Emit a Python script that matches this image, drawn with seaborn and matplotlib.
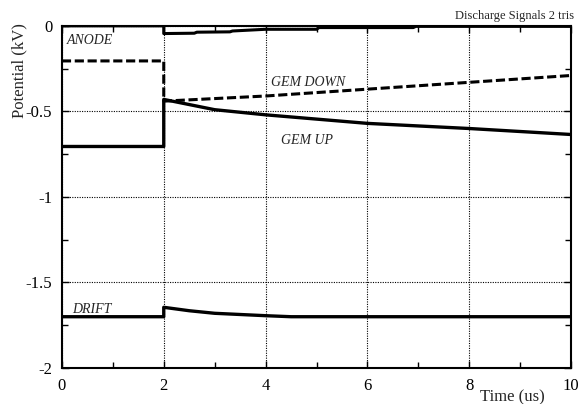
import numpy as np
import pandas as pd
import seaborn as sns
import matplotlib.pyplot as plt
from matplotlib.ticker import MultipleLocator, FuncFormatter

t_anode = [0, 2, 2, 2.6, 2.65, 3.3, 3.35, 4.0, 5.0, 5.05, 6.9, 6.95, 10]
v_anode = [0, 0, -0.045, -0.043, -0.037, -0.035, -0.03, -0.02, -0.02, -0.01, -0.01, -0.003, -0.003]

t_gem_down = [0, 2, 2, 3, 4, 6, 8, 10]
v_gem_down = [-0.205, -0.205, -0.44, -0.425, -0.41, -0.37, -0.33, -0.29]

t_gem_up = [0, 2, 2, 3, 4, 6, 8, 10]
v_gem_up = [-0.705, -0.705, -0.43, -0.49, -0.52, -0.57, -0.60, -0.635]

t_drift = [0, 2, 2, 2.5, 3, 4, 4.5, 6, 10]
v_drift = [-1.70, -1.70, -1.645, -1.665, -1.68, -1.694, -1.70, -1.70, -1.70]

labels = ["ANODE", "GEM DOWN", "GEM UP", "DRIFT"]
label_pos = [(0.1, -0.085), (4.1, -0.33), (4.3, -0.67), (0.2, -1.655)]

sns.set_theme(style="ticks")
plt.rcParams["font.family"] = ["Liberation Serif", "DejaVu Serif"]
plt.rcParams["axes.unicode_minus"] = False

fig = plt.figure(figsize=(5.84, 4.04), dpi=100)
ax = fig.add_axes([0.106, 0.089, 0.872, 0.847])

sns.lineplot(x=t_anode, y=v_anode, ax=ax, color="black", lw=2.2, sort=False, estimator=None)
sns.lineplot(x=t_gem_down, y=v_gem_down, ax=ax, color="black", lw=2.2, sort=False,
             estimator=None, linestyle=(0, (3, 1.2)))
sns.lineplot(x=t_gem_up, y=v_gem_up, ax=ax, color="black", lw=2.4, sort=False, estimator=None)
sns.lineplot(x=t_drift, y=v_drift, ax=ax, color="black", lw=2.4, sort=False, estimator=None)

for name, (x, y) in zip(labels, label_pos):
    ax.text(x, y, name, fontsize=10, style="italic", va="center", ha="left")

ax.set_xlim(0, 10)
ax.set_ylim(-2, 0)
ax.xaxis.set_major_locator(MultipleLocator(2))
ax.xaxis.set_minor_locator(MultipleLocator(1))
ax.yaxis.set_major_locator(MultipleLocator(0.5))
ax.yaxis.set_minor_locator(MultipleLocator(0.25))
ax.yaxis.set_major_formatter(FuncFormatter(lambda v, p: f"{v:g}"))
ax.tick_params(which="both", direction="in", top=True, right=True, labelsize=12,
               colors="black", width=1)
ax.tick_params(which="major", length=5, pad=7)
ax.tick_params(which="minor", length=4)
ax.grid(True, which="major", color="black", linestyle=(0, (1, 1.2)), lw=0.8)
for s in ax.spines.values():
    s.set_color("black")
    s.set_linewidth(1.5)

ax.set_xlabel("")
ax.set_ylabel("")
ax.text(0.885, -0.062, "Time (us)", transform=ax.transAxes, fontsize=12,
        ha="center", va="top")
ax.text(-0.083, 0.87, "Potential (kV)", transform=ax.transAxes, fontsize=12,
        ha="center", va="center", rotation=90)
ax.text(1.005, 1.01, "Discharge Signals 2 tris", transform=ax.transAxes,
        fontsize=9, ha="right", va="bottom")

fig.savefig("out.png", dpi=100)
